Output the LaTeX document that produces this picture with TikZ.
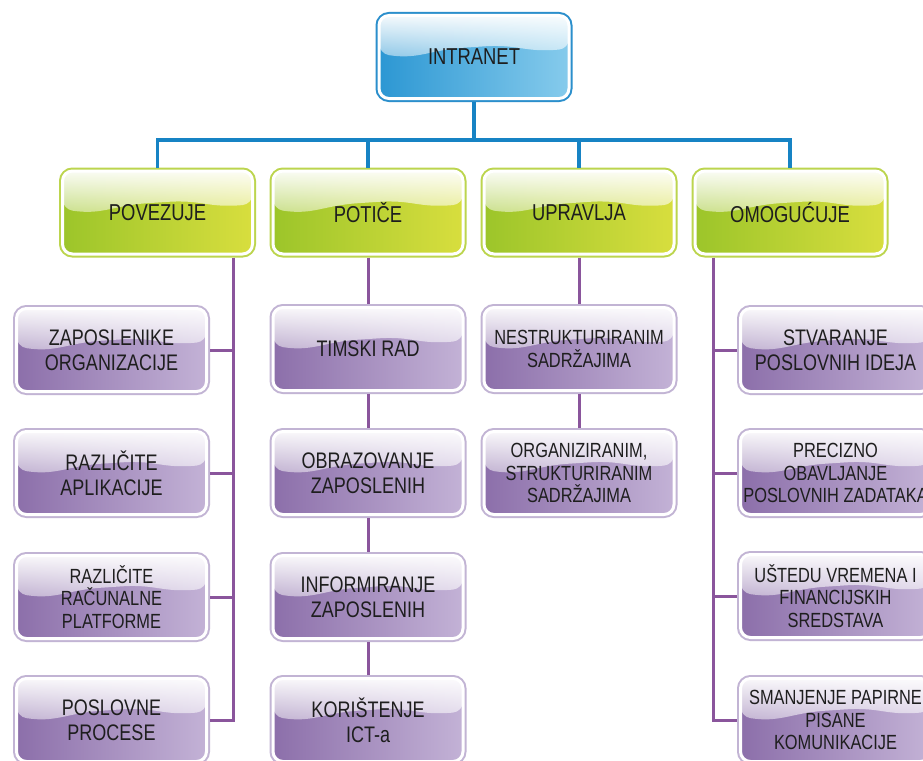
\documentclass[tikz,border=0pt]{standalone}
\usepackage{fontspec}
\setmainfont{Liberation Sans}[FakeStretch=0.80]
\usetikzlibrary{fadings,calc}
\definecolor{bluedark}{HTML}{2C97D3}
\definecolor{bluelight}{HTML}{86CBEC}
\definecolor{blueedge}{HTML}{2B8FCC}
\definecolor{blueline}{HTML}{1783C4}
\definecolor{greendark}{HTML}{9CC52A}
\definecolor{greenlight}{HTML}{D8DE3E}
\definecolor{greenedge}{HTML}{BCD54E}
\definecolor{purpdark}{HTML}{8C6FAA}
\definecolor{purplight}{HTML}{C3B2D6}
\definecolor{purpedge}{HTML}{C2B4D4}
\definecolor{purpline}{HTML}{8A559C}
\definecolor{txt}{HTML}{1E1E1E}
\tikzfading[name=glossfade, top color=transparent!5, bottom color=transparent!100]
\tikzset{
  gloss/.style={path picture={
    \fill[white, path fading=glossfade]
      (path picture bounding box.north west) -- (path picture bounding box.north east)
      -- ($(path picture bounding box.north east)!0.40!(path picture bounding box.south east)$)
      .. controls +(-45,4) and +(45,-3) .. ($(path picture bounding box.north)!0.38!(path picture bounding box.south)$)
      .. controls +(-45,3) and +(40,6) .. ($(path picture bounding box.north west)!0.46!(path picture bounding box.south west)$)
      -- cycle;
  }},
  glossbox/.style n args={3}{rounded corners=10pt, minimum width=190pt, minimum height=83pt,
    inner sep=2pt, outer sep=3.5pt, align=center, text=txt,
    left color=#1, right color=#2, draw=white, line width=3pt,
    preaction={draw=#3, line width=7pt}, gloss},
  topbox/.style={glossbox={bluedark}{bluelight}{blueedge}, font=\fontsize{23}{25}\selectfont},
  greenbox/.style={glossbox={greendark}{greenlight}{greenedge}, font=\fontsize{23}{25}\selectfont},
  purpbox/.style={glossbox={purpdark}{purplight}{purpedge}, font=\fontsize{22.5}{25}\selectfont},
  purpsmall/.style={glossbox={purpdark}{purplight}{purpedge}, font=\fontsize{20.5}{22.5}\selectfont},
  bline/.style={draw=blueline, line width=3.5pt},
  pline/.style={draw=purpline, line width=3pt},
}
\begin{document}
\begin{tikzpicture}[x=1pt,y=-1pt]
\clip (0,0) rectangle (923,760);
\fill[white] (0,0) rectangle (923,760);
% top
\node[topbox] (intra) at (474,57) {INTRANET};
% level 1
\node[greenbox] (pov) at (157.5,212.5) {POVEZUJE};
\node[greenbox] (pot) at (368,212.5) {POTIČE};
\node[greenbox] (upr) at (579,212.5) {UPRAVLJA};
\node[greenbox] (omo) at (790,212.5) {OMOGUĆUJE};
% POVEZUJE children
\node[purpbox] (a1) at (111.5,350) {ZAPOSLENIKE\\ORGANIZACIJE};
\node[purpbox] (a2) at (111.5,473) {RAZLIČITE\\APLIKACIJE};
\node[purpsmall] (a3) at (111.5,597) {RAZLIČITE\\RAČUNALNE\\PLATFORME};
\node[purpbox] (a4) at (111.5,720) {POSLOVNE\\PROCESE};
% POTICE children
\node[purpbox] (b1) at (368,349) {TIMSKI RAD};
\node[purpbox] (b2) at (368,473) {OBRAZOVANJE\\ZAPOSLENIH};
\node[purpbox] (b3) at (368,597) {INFORMIRANJE\\ZAPOSLENIH};
\node[purpbox] (b4) at (368,720) {KORIŠTENJE\\ICT-a};
% UPRAVLJA children
\node[purpsmall] (c1) at (579,349) {NESTRUKTURIRANIM\\SADRŽAJIMA};
\node[purpsmall] (c2) at (579,473) {ORGANIZIRANIM,\\STRUKTURIRANIM\\SADRŽAJIMA};
% OMOGUCUJE children
\node[purpbox] (d1) at (835.5,350) {STVARANJE\\POSLOVNIH IDEJA};
\node[purpsmall] (d2) at (835.5,473) {PRECIZNO\\OBAVLJANJE\\POSLOVNIH ZADATAKA};
\node[purpsmall] (d3) at (835.5,596) {UŠTEDU VREMENA I\\FINANCIJSKIH\\SREDSTAVA};
\node[purpsmall] (d4) at (835.5,720) {SMANJENJE PAPIRNE\\PISANE\\KOMUNIKACIJE};
% blue connectors
\coordinate (bbus) at (474,140);
\draw[bline] (intra.south) -- (bbus);
\draw[bline] (pov.north) |- (bbus) -| (omo.north);
\draw[bline] (pot.north) -- (pot.north |- bbus);
\draw[bline] (upr.north) -- (upr.north |- bbus);
% POVEZUJE bus
\coordinate (povbus) at ([xshift=75.5pt]pov.south);
\draw[pline] (povbus) |- (a4.east);
\draw[pline] (a1.east) -- (a1.east -| povbus);
\draw[pline] (a2.east) -- (a2.east -| povbus);
\draw[pline] (a3.east) -- (a3.east -| povbus);
% POTICE chain
\draw[pline] (pot.south) -- (b1.north);
\draw[pline] (b1.south) -- (b2.north);
\draw[pline] (b2.south) -- (b3.north);
\draw[pline] (b3.south) -- (b4.north);
% UPRAVLJA chain
\draw[pline] (upr.south) -- (c1.north);
\draw[pline] (c1.south) -- (c2.north);
% OMOGUCUJE bus
\coordinate (omobus) at ([xshift=-77pt]omo.south);
\draw[pline] (omobus) |- (d4.west);
\draw[pline] (d1.west) -- (d1.west -| omobus);
\draw[pline] (d2.west) -- (d2.west -| omobus);
\draw[pline] (d3.west) -- (d3.west -| omobus);
\end{tikzpicture}
\end{document}
